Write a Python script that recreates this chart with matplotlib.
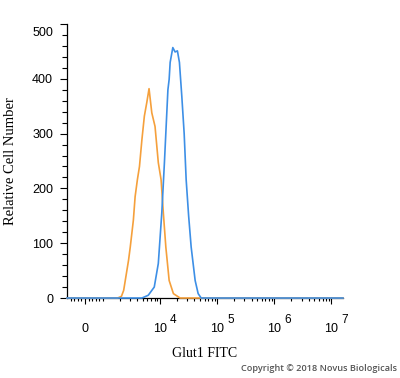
import numpy as np
import matplotlib.pyplot as plt
from matplotlib.ticker import FixedLocator, NullFormatter

plt.rcParams['font.family'] = 'Liberation Sans'

# isotype control (orange) and Glut1 stained cells (blue)
iso_x = [1800, 2100, 2300, 2800, 3000, 3400, 3650, 4000, 4350, 4800, 5300,
         5850, 6400, 7150, 8150, 9300, 10400, 11400, 12600, 14400, 17100, 22400]
iso_y = [0, 3, 14, 69, 93, 142, 185, 216, 240, 289, 332,
         357, 382, 338, 313, 247, 216, 155, 93, 32, 8, 0]

glut_x = [4800, 6200, 7900, 9300, 10700, 11900, 13100, 13700, 14400, 15000,
          16700, 18300, 20100, 21800, 24000, 26400, 28600, 31600, 35000,
          41100, 46400, 52400]
glut_y = [0, 5, 20, 63, 155, 247, 338, 380, 399, 430,
          457, 449, 451, 430, 368, 300, 216, 150, 93,
          32, 8, 0]

x_min, x_max = -1000, 1.6e7
decades = [4, 5, 6, 7]
y_major = [0, 100, 200, 300, 400, 500]

orange = '#f5a03c'
blue = '#3d8fe6'

fig = plt.figure(figsize=(4, 3.78), dpi=100)
ax = fig.add_axes([0.1675, 0.2116, 0.69, 0.7249])

ax.plot([x_min] + iso_x + [x_max], [0] + iso_y + [0], color=orange, lw=1.2,
        zorder=3, clip_on=False)
ax.plot([x_min] + glut_x + [x_max], [0] + glut_y + [0], color=blue, lw=1.2,
        zorder=4, clip_on=False)

ax.set_xscale('symlog', linthresh=1000, linscale=0.284)
ax.set_xlim(x_min, x_max)
ax.set_ylim(0, 500)

# x axis ticks
ax.set_xticks([0] + [10 ** k for k in decades])
ax.set_xticklabels(['0'] + ['10'] * len(decades))
minor = [-800, -600, -400, -200, 200, 400, 600, 800, 1000]
for k in range(3, 7):
    minor += [m * 10 ** k for m in range(2, 10)]
ax.xaxis.set_minor_locator(FixedLocator(minor))
ax.xaxis.set_minor_formatter(NullFormatter())
ax.tick_params(axis='x', which='major', length=4, width=0.8, pad=14, labelsize=9)
ax.tick_params(axis='x', which='minor', length=2.5, width=0.8)
for k in decades:
    ax.annotate(str(k), xy=(10 ** k, 0), xycoords=('data', 'axes fraction'),
                xytext=(9.6, -15.5), textcoords='offset points',
                ha='center', va='center', fontsize=8.5)

# y axis ticks
ax.set_yticks(y_major)
ax.set_yticklabels([str(v) for v in y_major[:-1]] + [''])
ax.yaxis.set_minor_locator(FixedLocator(np.arange(0, 501, 20)))
ax.tick_params(axis='y', which='major', length=5, width=0.8, pad=5, labelsize=9)
ax.tick_params(axis='y', which='minor', length=3.5, width=0.8)
ax.annotate(str(y_major[-1]), xy=(0, y_major[-1]), xycoords=('axes fraction', 'data'),
            xytext=(-10, -6.5), textcoords='offset points',
            ha='right', va='center', fontsize=9)

for side in ['top', 'right']:
    ax.spines[side].set_visible(False)
for side in ['left', 'bottom']:
    ax.spines[side].set_linewidth(0.9)

ax.set_ylabel('Relative Cell Number', family='Liberation Serif', fontsize=10.5)
ax.set_xlabel('Glut1 FITC', family='Liberation Serif', fontsize=10)
ax.yaxis.set_label_coords(-0.181, 0.5)
ax.xaxis.set_label_coords(0.5, -0.179)

fig.text(0.993, 0.024, 'Copyright \u00a9 2018 Novus Biologicals', ha='right',
         va='center', fontsize=6.6, color='#555555', family='Open Sans',
         weight='semibold')

fig.savefig('out.png', dpi=100)
